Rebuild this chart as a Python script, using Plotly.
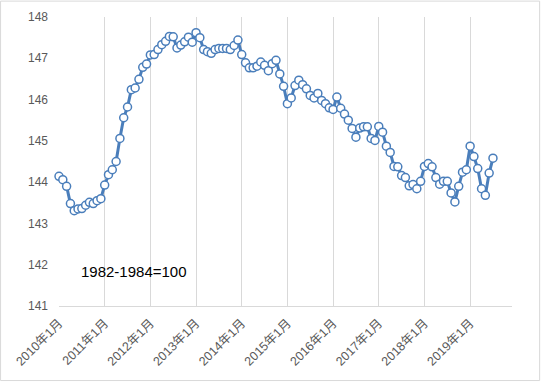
import plotly.graph_objects as go

years = list(range(2010, 2020))
months = [f"{y}年{m}月" for y in years for m in range(1, 13)]

v2010 = [144.14, 144.06, 143.90, 143.48, 143.31, 143.35, 143.36, 143.44, 143.51, 143.48, 143.55, 143.60]
v2011 = [143.93, 144.18, 144.30, 144.50, 145.06, 145.56, 145.82, 146.24, 146.28, 146.49, 146.78, 146.86]
v2012 = [147.08, 147.09, 147.21, 147.33, 147.41, 147.53, 147.52, 147.25, 147.32, 147.40, 147.51, 147.39]
v2013 = [147.62, 147.50, 147.21, 147.16, 147.12, 147.21, 147.24, 147.24, 147.24, 147.21, 147.31, 147.44]
v2014 = [147.09, 146.89, 146.77, 146.77, 146.81, 146.91, 146.83, 146.70, 146.87, 146.95, 146.62, 146.32]
v2015 = [145.90, 146.04, 146.34, 146.47, 146.36, 146.26, 146.10, 146.04, 146.15, 145.98, 145.90, 145.80]
v2016 = [145.76, 146.06, 145.79, 145.65, 145.50, 145.30, 145.09, 145.31, 145.34, 145.34, 145.06, 145.01]
v2017 = [145.35, 145.21, 144.87, 144.72, 144.38, 144.37, 144.16, 144.11, 143.91, 143.94, 143.84, 144.02]
v2018 = [144.38, 144.45, 144.37, 144.11, 143.95, 144.02, 144.02, 143.74, 143.52, 143.90, 144.24, 144.30]
v2019 = [144.87, 144.62, 144.33, 143.84, 143.68, 144.22, 144.58]

values = v2010 + v2011 + v2012 + v2013 + v2014 + v2015 + v2016 + v2017 + v2018 + v2019
tick_labels = [f"{y}年1月" for y in years]
y_ticks = [141, 142, 143, 144, 145, 146, 147, 148]
note = "1982-1984=100"

FONT = "Liberation Sans, Noto Sans CJK SC, sans-serif"
BLUE = "#4a7ebb"
GRID = "#d9d9d9"

fig = go.Figure()
fig.add_trace(go.Scatter(
    x=months[:len(values)], y=values, mode="lines+markers",
    line=dict(color=BLUE, width=3),
    marker=dict(symbol="circle", size=8, color="white", line=dict(color=BLUE, width=1.5)),
    showlegend=False, hoverinfo="skip", cliponaxis=False,
))

fig.update_layout(
    width=544, height=383,
    margin=dict(l=59, r=32, t=17, b=77),
    paper_bgcolor="white", plot_bgcolor="white",
    font=dict(family=FONT, size=12, color="#595959"),
    xaxis=dict(
        type="category", categoryorder="array", categoryarray=months,
        range=[0, 119], tickmode="array", tickvals=tick_labels, ticktext=tick_labels,
        tickangle=-45, showgrid=True, gridcolor=GRID, gridwidth=1,
        showline=True, linecolor=GRID, linewidth=1, ticks="",
        zeroline=False, tickfont=dict(size=12.5, color="#595959"),
        ticklabelstandoff=4, automargin=False,
    ),
    yaxis=dict(
        range=[141, 148], tickmode="array", tickvals=y_ticks,
        showgrid=False, showline=False, zeroline=False, ticks="",
        tickfont=dict(size=12, color="#595959"), ticklabelstandoff=10, automargin=False,
    ),
    shapes=[
        dict(type="rect", xref="paper", yref="paper", x0=-0.01, x1=0.313, y0=0.021, y1=0.195,
             fillcolor="white", line=dict(width=0), layer="between"),
        dict(type="rect", xref="paper", yref="paper", x0=-0.129, x1=1.061, y0=-0.258, y1=1.055,
             fillcolor="rgba(0,0,0,0)", line=dict(color=GRID, width=1), layer="above"),
    ],
    annotations=[
        dict(text=note, xref="paper", yref="paper", x=0.045, y=0.12, xanchor="left", yanchor="middle",
             showarrow=False, font=dict(family=FONT, size=15, color="black")),
    ],
)

fig.write_html("out.html", config={"displayModeBar": False},
               post_script="document.body.style.margin='0';")
